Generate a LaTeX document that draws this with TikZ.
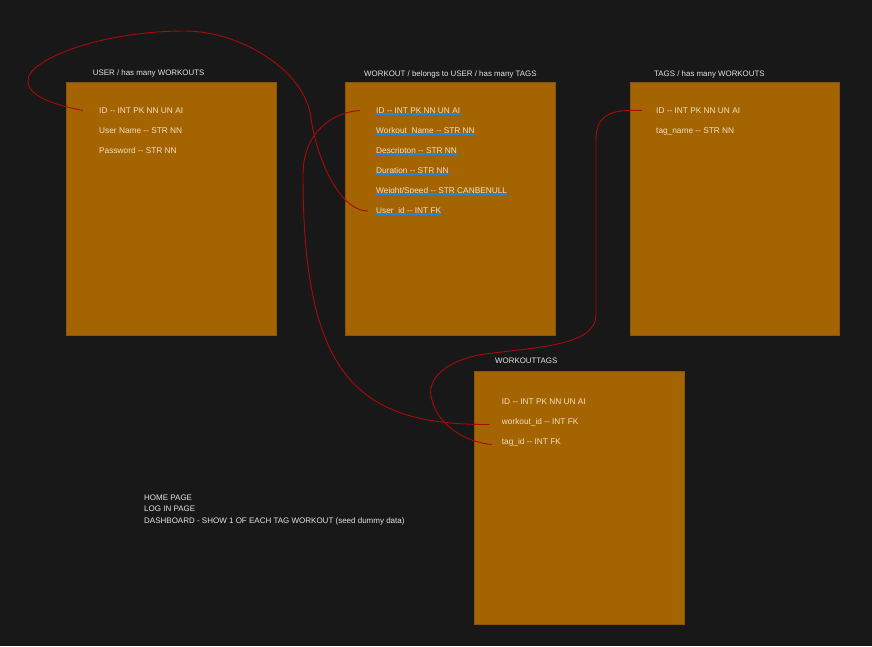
\documentclass[tikz,border=0pt]{standalone}
\usepackage{fontspec}
\setmainfont{Liberation Sans}
\usetikzlibrary{positioning}
\definecolor{bgdark}{HTML}{181818}
\definecolor{tablefill}{HTML}{A46402}
\definecolor{tableedge}{HTML}{8A5410}
\definecolor{fieldtext}{HTML}{F2E2C4}
\definecolor{titletext}{HTML}{E4E4E4}
\definecolor{linkred}{HTML}{A80A0A}
\definecolor{markblue}{HTML}{1F86E0}

\tikzset{
  tablebox/.style={draw=tableedge, fill=tablefill, line width=0.8pt, anchor=north west, inner sep=0pt},
  tabletitle/.style={font=\fontsize{7.9}{9}\selectfont, color=titletext, anchor=base west, inner sep=0pt},
  field/.style={font=\fontsize{8.3}{10}\selectfont, color=fieldtext, anchor=base west, inner sep=0pt},
  relation/.style={draw=linkred, line width=0.9pt},
  pagenote/.style={font=\fontsize{8}{9}\selectfont, color=titletext, anchor=base west, inner sep=0pt}
}

\begin{document}
\begin{tikzpicture}[x=1pt, y=-1pt]
    % Background
    \fill[bgdark] (0,0) rectangle (872,646);

    % USER table
    \node[tablebox, minimum width=210pt, minimum height=253pt] (user) at (66,82) {};
    \node[tabletitle] (usertitle) at (92.7,75) {USER / has many WORKOUTS};
    \foreach \fld/\ypos/\txt in {uid/113.3/{ID -{}- INT PK NN UN AI}, uname/133.3/{User Name -{}- STR NN}, upass/153.3/{Password -{}- STR NN}} {
        \node[field] (\fld) at (99,\ypos) {\txt};
    }

    % WORKOUT table
    \node[tablebox, minimum width=210pt, minimum height=253pt] (workout) at (345,82) {};
    \node[tabletitle] (workouttitle) at (364,76.7) {WORKOUT / belongs to USER / has many TAGS};
    \foreach \fld/\ypos/\txt in {wid/113.3/{ID -{}- INT PK NN UN AI}, wname/133.3/{Workout\_Name -{}- STR NN}, wdesc/153.3/{Descripton -{}- STR NN}, wdur/173.3/{Duration -{}- STR NN}, wweight/193.3/{Weight/Speed -{}- STR CANBENULL}, wuser/213.3/{User\_id -{}- INT FK}} {
        \node[field] (\fld) at (376,\ypos) {\txt};
    }
    % underlines
    \fill[markblue] (wid.base west) rectangle ([yshift=-1.4pt]wid.base east);
    \fill[markblue] (wname.base west) rectangle ([yshift=-1.4pt]wname.base east);
    \fill[markblue] (wdesc.base west) rectangle ([yshift=-1.4pt]wdesc.base east);
    \fill[markblue] (wdur.base west) rectangle ([yshift=-1.4pt]wdur.base east);
    \fill[markblue] (wweight.base west) rectangle ([yshift=-1.4pt]wweight.base east);
    \fill[markblue] (wuser.base west) rectangle ([yshift=-1.4pt]wuser.base east);

    % TAGS table
    \node[tablebox, minimum width=209pt, minimum height=253pt] (tags) at (630,82) {};
    \node[tabletitle] (tagstitle) at (654,76.7) {TAGS / has many WORKOUTS};
    \foreach \fld/\ypos/\txt in {tid/113.3/{ID -{}- INT PK NN UN AI}, tname/133.3/{tag\_name -{}- STR NN}} {
        \node[field] (\fld) at (656,\ypos) {\txt};
    }

    % WORKOUTTAGS table
    \node[tablebox, minimum width=210pt, minimum height=253pt] (wtags) at (474,371) {};
    \node[tabletitle] (wtagstitle) at (495,363.3) {WORKOUTTAGS};
    \foreach \fld/\ypos/\txt in {wtid/404.7/{ID -{}- INT PK NN UN AI}, wtwork/424.7/{workout\_id -{}- INT FK}, wttag/444.7/{tag\_id -{}- INT FK}} {
        \node[field] (\fld) at (501.7,\ypos) {\txt};
    }

    % Relations
    \draw[relation] ([xshift=-16pt]uid.west) .. controls (50,104) and (27,95) .. (28,80)
        .. controls (28,60) and (100,31) .. (185,31)
        .. controls (240,31) and (305,70) .. (311,118)
        .. controls (314.6,147) and (335,210) .. ([xshift=-8pt]wuser.west);
    \draw[relation] ([xshift=-16pt]wid.west) .. controls (335,112) and (303,130) .. (303,175)
        .. controls (303,380) and (360,425) .. ([xshift=-12pt, yshift=-2pt]wtwork.west);
    \draw[relation] ([xshift=-14pt]tid.west) .. controls (610,109) and (596,115) .. (596,140)
        -- (596,315) .. controls (596,345) and (540,347) .. (485,354)
        .. controls (445,360) and (425,380) .. (432,400)
        .. controls (438,425) and (465,442) .. ([xshift=-10pt, yshift=-2pt]wttag.west);

    % Pages
    \node[pagenote] (home) at (144,500.5) {HOME PAGE};
    \node[pagenote] (login) at (144,511.8) {LOG IN PAGE};
    \node[pagenote] (dash) at (144,523) {DASHBOARD - SHOW 1 OF EACH TAG WORKOUT (seed dummy data)};
\end{tikzpicture}
\end{document}
